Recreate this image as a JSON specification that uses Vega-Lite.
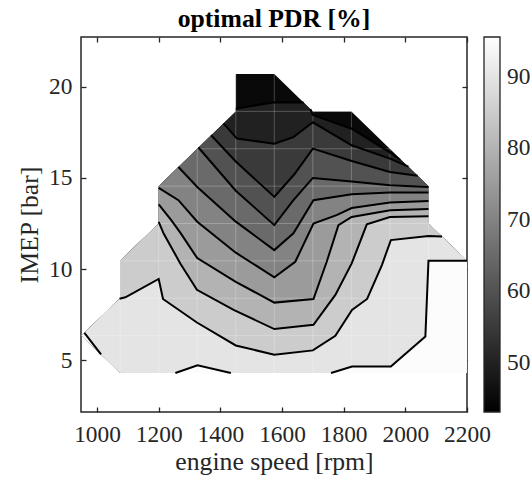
{
  "$schema": "https://vega.github.io/schema/vega-lite/v6.json",
  "width": 386,
  "height": 375,
  "autosize": "none",
  "padding": {"left": 81, "top": 37, "right": 64, "bottom": 71},
  "background": "white",
  "title": {"text": "optimal PDR [%]", "font": "Liberation Serif", "fontSize": 25.7, "fontWeight": "bold", "color": "#000000", "offset": 4, "anchor": "middle"},
  "config": {
    "view": {"stroke": "#262626", "strokeWidth": 1.5},
    "axis": {"grid": false, "domain": false, "tickColor": "#262626", "tickWidth": 1.3, "tickSize": -5, "labelFont": "Liberation Serif", "labelFontSize": 23.4, "labelColor": "#262626", "titleFont": "Liberation Serif", "titleFontSize": 25.7, "titleFontWeight": "normal", "titleColor": "#262626", "labelFlush": false, "labelOverlap": false, "format": "d"}
  },
  "datasets": {
    "bands": [
      {"p":0,"v":45,"x":950,"hi":6.35,"lo":6.35},{"p":0,"v":45,"x":1075,"hi":8.4,"lo":4.3},{"p":0,"v":45,"x":1075,"hi":10.45,"lo":4.3},{"p":0,"v":45,"x":1200,"hi":12.5,"lo":4.3},{"p":0,"v":45,"x":1200,"hi":14.55,"lo":4.3},{"p":0,"v":45,"x":1450,"hi":18.65,"lo":4.3},{"p":0,"v":45,"x":1450,"hi":20.7,"lo":4.3},{"p":0,"v":45,"x":1575,"hi":20.7,"lo":4.3},{"p":0,"v":45,"x":1700,"hi":18.65,"lo":4.3},{"p":0,"v":45,"x":1825,"hi":18.65,"lo":4.3},{"p":0,"v":45,"x":2075,"hi":14.55,"lo":4.3},{"p":0,"v":45,"x":2075,"hi":12.5,"lo":4.3},{"p":0,"v":45,"x":2200,"hi":10.45,"lo":4.3},

      {"p":1,"v":50,"x":950,"hi":6.35,"lo":6.35},{"p":1,"v":50,"x":1075,"hi":8.4,"lo":4.3},{"p":1,"v":50,"x":1075,"hi":10.45,"lo":4.3},{"p":1,"v":50,"x":1200,"hi":12.5,"lo":4.3},{"p":1,"v":50,"x":1200,"hi":14.55,"lo":4.3},{"p":1,"v":50,"x":1450,"hi":18.65,"lo":4.3},{"p":1,"v":50,"x":1450,"hi":18.8,"lo":4.3},{"p":1,"v":50,"x":1575,"hi":19.15,"lo":4.3},{"p":1,"v":50,"x":1670,"hi":19.14,"lo":4.3},{"p":1,"v":50,"x":1692,"hi":18.78,"lo":4.3},{"p":1,"v":50,"x":1700,"hi":18.45,"lo":4.3},{"p":1,"v":50,"x":1826,"hi":17.7,"lo":4.3},{"p":1,"v":50,"x":1950,"hi":16.4,"lo":4.3},{"p":1,"v":50,"x":1983,"hi":16.0,"lo":4.3},{"p":1,"v":50,"x":2075,"hi":14.55,"lo":4.3},{"p":1,"v":50,"x":2075,"hi":12.5,"lo":4.3},{"p":1,"v":50,"x":2200,"hi":10.45,"lo":4.3},

      {"p":2,"v":55,"x":950,"hi":6.35,"lo":6.35},{"p":2,"v":55,"x":1075,"hi":8.4,"lo":4.3},{"p":2,"v":55,"x":1075,"hi":10.45,"lo":4.3},{"p":2,"v":55,"x":1200,"hi":12.5,"lo":4.3},{"p":2,"v":55,"x":1200,"hi":14.55,"lo":4.3},{"p":2,"v":55,"x":1410,"hi":17.99,"lo":4.3},{"p":2,"v":55,"x":1454,"hi":17.16,"lo":4.3},{"p":2,"v":55,"x":1575,"hi":16.88,"lo":4.3},{"p":2,"v":55,"x":1637,"hi":17.24,"lo":4.3},{"p":2,"v":55,"x":1700,"hi":18.05,"lo":4.3},{"p":2,"v":55,"x":1826,"hi":16.79,"lo":4.3},{"p":2,"v":55,"x":1950,"hi":16.06,"lo":4.3},{"p":2,"v":55,"x":2010,"hi":15.62,"lo":4.3},{"p":2,"v":55,"x":2075,"hi":14.55,"lo":4.3},{"p":2,"v":55,"x":2075,"hi":12.5,"lo":4.3},{"p":2,"v":55,"x":2200,"hi":10.45,"lo":4.3},

      {"p":3,"v":60,"x":950,"hi":6.35,"lo":6.35},{"p":3,"v":60,"x":1075,"hi":8.4,"lo":4.3},{"p":3,"v":60,"x":1075,"hi":10.45,"lo":4.3},{"p":3,"v":60,"x":1200,"hi":12.5,"lo":4.3},{"p":3,"v":60,"x":1200,"hi":14.55,"lo":4.3},{"p":3,"v":60,"x":1370,"hi":17.34,"lo":4.3},{"p":3,"v":60,"x":1450,"hi":15.9,"lo":4.3},{"p":3,"v":60,"x":1575,"hi":13.96,"lo":4.3},{"p":3,"v":60,"x":1640,"hi":15.2,"lo":4.3},{"p":3,"v":60,"x":1700,"hi":16.61,"lo":4.3},{"p":3,"v":60,"x":1826,"hi":15.93,"lo":4.3},{"p":3,"v":60,"x":1950,"hi":15.33,"lo":4.3},{"p":3,"v":60,"x":2040,"hi":15.12,"lo":4.3},{"p":3,"v":60,"x":2075,"hi":14.55,"lo":4.3},{"p":3,"v":60,"x":2075,"hi":12.5,"lo":4.3},{"p":3,"v":60,"x":2200,"hi":10.45,"lo":4.3},

      {"p":4,"v":65,"x":950,"hi":6.35,"lo":6.35},{"p":4,"v":65,"x":1075,"hi":8.4,"lo":4.3},{"p":4,"v":65,"x":1075,"hi":10.45,"lo":4.3},{"p":4,"v":65,"x":1200,"hi":12.5,"lo":4.3},{"p":4,"v":65,"x":1200,"hi":14.55,"lo":4.3},{"p":4,"v":65,"x":1329,"hi":16.67,"lo":4.3},{"p":4,"v":65,"x":1450,"hi":14.3,"lo":4.3},{"p":4,"v":65,"x":1575,"hi":12.41,"lo":4.3},{"p":4,"v":65,"x":1637,"hi":13.78,"lo":4.3},{"p":4,"v":65,"x":1700,"hi":15.0,"lo":4.3},{"p":4,"v":65,"x":1826,"hi":14.8,"lo":4.3},{"p":4,"v":65,"x":1950,"hi":14.6,"lo":4.3},{"p":4,"v":65,"x":2075,"hi":14.5,"lo":4.3},{"p":4,"v":65,"x":2075,"hi":12.5,"lo":4.3},{"p":4,"v":65,"x":2200,"hi":10.45,"lo":4.3},

      {"p":5,"v":70,"x":950,"hi":6.35,"lo":6.35},{"p":5,"v":70,"x":1075,"hi":8.4,"lo":4.3},{"p":5,"v":70,"x":1075,"hi":10.45,"lo":4.3},{"p":5,"v":70,"x":1200,"hi":12.5,"lo":4.3},{"p":5,"v":70,"x":1200,"hi":14.55,"lo":4.3},{"p":5,"v":70,"x":1264,"hi":15.6,"lo":4.3},{"p":5,"v":70,"x":1325,"hi":14.5,"lo":4.3},{"p":5,"v":70,"x":1450,"hi":12.6,"lo":4.3},{"p":5,"v":70,"x":1575,"hi":11.04,"lo":4.3},{"p":5,"v":70,"x":1637,"hi":11.96,"lo":4.3},{"p":5,"v":70,"x":1702,"hi":13.78,"lo":4.3},{"p":5,"v":70,"x":1826,"hi":14.1,"lo":4.3},{"p":5,"v":70,"x":1950,"hi":14.2,"lo":4.3},{"p":5,"v":70,"x":2075,"hi":14.2,"lo":4.3},{"p":5,"v":70,"x":2075,"hi":12.5,"lo":4.3},{"p":5,"v":70,"x":2200,"hi":10.45,"lo":4.3},

      {"p":6,"v":75,"x":950,"hi":6.35,"lo":6.35},{"p":6,"v":75,"x":1075,"hi":8.4,"lo":4.3},{"p":6,"v":75,"x":1075,"hi":10.45,"lo":4.3},{"p":6,"v":75,"x":1200,"hi":12.5,"lo":4.3},{"p":6,"v":75,"x":1200,"hi":14.45,"lo":4.3},{"p":6,"v":75,"x":1264,"hi":13.78,"lo":4.3},{"p":6,"v":75,"x":1325,"hi":12.6,"lo":4.3},{"p":6,"v":75,"x":1450,"hi":10.9,"lo":4.3},{"p":6,"v":75,"x":1575,"hi":9.55,"lo":4.3},{"p":6,"v":75,"x":1643,"hi":10.4,"lo":4.3},{"p":6,"v":75,"x":1702,"hi":12.5,"lo":4.3},{"p":6,"v":75,"x":1777,"hi":12.96,"lo":4.3},{"p":6,"v":75,"x":1826,"hi":13.35,"lo":4.3},{"p":6,"v":75,"x":1950,"hi":13.65,"lo":4.3},{"p":6,"v":75,"x":2075,"hi":13.74,"lo":4.3},{"p":6,"v":75,"x":2075,"hi":12.5,"lo":4.3},{"p":6,"v":75,"x":2200,"hi":10.45,"lo":4.3},

      {"p":7,"v":80,"x":950,"hi":6.35,"lo":6.35},{"p":7,"v":80,"x":1075,"hi":8.4,"lo":4.3},{"p":7,"v":80,"x":1075,"hi":10.45,"lo":4.3},{"p":7,"v":80,"x":1200,"hi":12.5,"lo":4.3},{"p":7,"v":80,"x":1200,"hi":13.55,"lo":4.3},{"p":7,"v":80,"x":1240,"hi":12.7,"lo":4.3},{"p":7,"v":80,"x":1270,"hi":12.0,"lo":4.3},{"p":7,"v":80,"x":1325,"hi":10.6,"lo":4.3},{"p":7,"v":80,"x":1450,"hi":9.3,"lo":4.3},{"p":7,"v":80,"x":1575,"hi":8.16,"lo":4.3},{"p":7,"v":80,"x":1702,"hi":8.36,"lo":4.3},{"p":7,"v":80,"x":1745,"hi":10.4,"lo":4.3},{"p":7,"v":80,"x":1783,"hi":12.41,"lo":4.3},{"p":7,"v":80,"x":1826,"hi":12.86,"lo":4.3},{"p":7,"v":80,"x":1951,"hi":13.23,"lo":4.3},{"p":7,"v":80,"x":2075,"hi":13.3,"lo":4.3},{"p":7,"v":80,"x":2075,"hi":12.5,"lo":4.3},{"p":7,"v":80,"x":2200,"hi":10.45,"lo":4.3},

      {"p":8,"v":85,"x":950,"hi":6.35,"lo":6.35},{"p":8,"v":85,"x":1075,"hi":8.4,"lo":4.3},{"p":8,"v":85,"x":1075,"hi":10.45,"lo":4.3},{"p":8,"v":85,"x":1200,"hi":12.5,"lo":4.3},{"p":8,"v":85,"x":1200,"hi":12.59,"lo":4.3},{"p":8,"v":85,"x":1216,"hi":11.95,"lo":4.3},{"p":8,"v":85,"x":1270,"hi":10.31,"lo":4.3},{"p":8,"v":85,"x":1324,"hi":8.86,"lo":4.3},{"p":8,"v":85,"x":1443,"hi":7.76,"lo":4.3},{"p":8,"v":85,"x":1575,"hi":6.71,"lo":4.3},{"p":8,"v":85,"x":1702,"hi":6.94,"lo":4.3},{"p":8,"v":85,"x":1773,"hi":8.58,"lo":4.3},{"p":8,"v":85,"x":1826,"hi":10.31,"lo":4.3},{"p":8,"v":85,"x":1875,"hi":12.45,"lo":4.3},{"p":8,"v":85,"x":1950,"hi":12.86,"lo":4.3},{"p":8,"v":85,"x":2075,"hi":12.9,"lo":4.3},{"p":8,"v":85,"x":2075,"hi":12.5,"lo":4.3},{"p":8,"v":85,"x":2200,"hi":10.45,"lo":4.3},

      {"p":9,"v":90,"x":950,"hi":6.35,"lo":6.35},{"p":9,"v":90,"x":1073,"hi":8.37,"lo":4.33},{"p":9,"v":90,"x":1092,"hi":8.45,"lo":4.3},{"p":9,"v":90,"x":1200,"hi":9.46,"lo":4.3},{"p":9,"v":90,"x":1214,"hi":8.36,"lo":4.3},{"p":9,"v":90,"x":1324,"hi":7.07,"lo":4.3},{"p":9,"v":90,"x":1450,"hi":5.81,"lo":4.3},{"p":9,"v":90,"x":1575,"hi":5.3,"lo":4.3},{"p":9,"v":90,"x":1700,"hi":5.54,"lo":4.3},{"p":9,"v":90,"x":1773,"hi":6.34,"lo":4.3},{"p":9,"v":90,"x":1827,"hi":7.76,"lo":4.3},{"p":9,"v":90,"x":1876,"hi":8.36,"lo":4.3},{"p":9,"v":90,"x":1924,"hi":10.22,"lo":4.3},{"p":9,"v":90,"x":1953,"hi":11.59,"lo":4.3},{"p":9,"v":90,"x":2075,"hi":11.81,"lo":4.3},{"p":9,"v":90,"x":2119,"hi":11.78,"lo":4.3},{"p":9,"v":90,"x":2200,"hi":10.45,"lo":4.3},

      {"p":10,"v":95,"x":950,"hi":6.35,"lo":6.35},{"p":10,"v":95,"x":959,"hi":6.5,"lo":6.2},{"p":10,"v":95,"x":1013,"hi":5.32,"lo":5.32},
      {"p":11,"v":95,"x":1254,"hi":4.3,"lo":4.3},{"p":11,"v":95,"x":1326,"hi":4.72,"lo":4.3},{"p":11,"v":95,"x":1434,"hi":4.3,"lo":4.3},
      {"p":12,"v":95,"x":1759,"hi":4.3,"lo":4.3},{"p":12,"v":95,"x":1827,"hi":4.66,"lo":4.3},{"p":12,"v":95,"x":1953,"hi":4.66,"lo":4.3},{"p":12,"v":95,"x":2065,"hi":6.3,"lo":4.3},{"p":12,"v":95,"x":2075,"hi":10.45,"lo":4.3},{"p":12,"v":95,"x":2200,"hi":10.45,"lo":4.3}
    ],
    "mesh": [
      {"x":1075,"x2":1075,"y":4.3,"y2":10.45},{"x":1200,"x2":1200,"y":4.3,"y2":14.55},{"x":1325,"x2":1325,"y":4.3,"y2":16.6},{"x":1450,"x2":1450,"y":4.3,"y2":20.7},{"x":1575,"x2":1575,"y":4.3,"y2":20.7},{"x":1700,"x2":1700,"y":4.3,"y2":18.65},{"x":1825,"x2":1825,"y":4.3,"y2":18.65},{"x":1950,"x2":1950,"y":4.3,"y2":16.6},{"x":2075,"x2":2075,"y":4.3,"y2":14.55},
      {"x":950,"x2":2075,"y":6.35,"y2":6.35},{"x":1075,"x2":2200,"y":8.4,"y2":8.4},{"x":1075,"x2":2200,"y":10.45,"y2":10.45},{"x":1200,"x2":2075,"y":12.5,"y2":12.5},{"x":1200,"x2":2075,"y":14.55,"y2":14.55},{"x":1325,"x2":1950,"y":16.6,"y2":16.6},{"x":1450,"x2":1825,"y":18.65,"y2":18.65}
    ],
    "contours": [
      {"id":"95a","o":0,"x":959,"y":6.5},{"id":"95a","o":1,"x":1013,"y":5.32},
      {"id":"95b","o":0,"x":1254,"y":4.3},{"id":"95b","o":1,"x":1326,"y":4.72},{"id":"95b","o":2,"x":1434,"y":4.3},
      {"id":"95c","o":0,"x":1759,"y":4.3},{"id":"95c","o":1,"x":1827,"y":4.66},{"id":"95c","o":2,"x":1953,"y":4.66},{"id":"95c","o":3,"x":2065,"y":6.3},{"id":"95c","o":4,"x":2075,"y":10.45},{"id":"95c","o":5,"x":2200,"y":10.45},
      {"id":"90","o":0,"x":1073,"y":8.37},{"id":"90","o":1,"x":1092,"y":8.45},{"id":"90","o":2,"x":1200,"y":9.46},{"id":"90","o":3,"x":1214,"y":8.36},{"id":"90","o":4,"x":1324,"y":7.07},{"id":"90","o":5,"x":1450,"y":5.81},{"id":"90","o":6,"x":1575,"y":5.3},{"id":"90","o":7,"x":1700,"y":5.54},{"id":"90","o":8,"x":1773,"y":6.34},{"id":"90","o":9,"x":1827,"y":7.76},{"id":"90","o":10,"x":1876,"y":8.36},{"id":"90","o":11,"x":1924,"y":10.22},{"id":"90","o":12,"x":1953,"y":11.59},{"id":"90","o":13,"x":2075,"y":11.81},{"id":"90","o":14,"x":2119,"y":11.78},
      {"id":"85","o":0,"x":1200,"y":12.59},{"id":"85","o":1,"x":1216,"y":11.95},{"id":"85","o":2,"x":1270,"y":10.31},{"id":"85","o":3,"x":1324,"y":8.86},{"id":"85","o":4,"x":1443,"y":7.76},{"id":"85","o":5,"x":1575,"y":6.71},{"id":"85","o":6,"x":1702,"y":6.94},{"id":"85","o":7,"x":1773,"y":8.58},{"id":"85","o":8,"x":1826,"y":10.31},{"id":"85","o":9,"x":1875,"y":12.45},{"id":"85","o":10,"x":1950,"y":12.86},{"id":"85","o":11,"x":2075,"y":12.9},
      {"id":"80","o":0,"x":1200,"y":13.55},{"id":"80","o":1,"x":1240,"y":12.7},{"id":"80","o":2,"x":1270,"y":12.0},{"id":"80","o":3,"x":1325,"y":10.6},{"id":"80","o":4,"x":1450,"y":9.3},{"id":"80","o":5,"x":1575,"y":8.16},{"id":"80","o":6,"x":1702,"y":8.36},{"id":"80","o":7,"x":1745,"y":10.4},{"id":"80","o":8,"x":1783,"y":12.41},{"id":"80","o":9,"x":1826,"y":12.86},{"id":"80","o":10,"x":1951,"y":13.23},{"id":"80","o":11,"x":2075,"y":13.3},
      {"id":"75","o":0,"x":1200,"y":14.45},{"id":"75","o":1,"x":1264,"y":13.78},{"id":"75","o":2,"x":1325,"y":12.6},{"id":"75","o":3,"x":1450,"y":10.9},{"id":"75","o":4,"x":1575,"y":9.55},{"id":"75","o":5,"x":1643,"y":10.4},{"id":"75","o":6,"x":1702,"y":12.5},{"id":"75","o":7,"x":1777,"y":12.96},{"id":"75","o":8,"x":1826,"y":13.35},{"id":"75","o":9,"x":1950,"y":13.65},{"id":"75","o":10,"x":2075,"y":13.74},
      {"id":"70","o":0,"x":1264,"y":15.6},{"id":"70","o":1,"x":1325,"y":14.5},{"id":"70","o":2,"x":1450,"y":12.6},{"id":"70","o":3,"x":1575,"y":11.04},{"id":"70","o":4,"x":1637,"y":11.96},{"id":"70","o":5,"x":1702,"y":13.78},{"id":"70","o":6,"x":1826,"y":14.1},{"id":"70","o":7,"x":1950,"y":14.2},{"id":"70","o":8,"x":2075,"y":14.2},
      {"id":"65","o":0,"x":1329,"y":16.67},{"id":"65","o":1,"x":1450,"y":14.3},{"id":"65","o":2,"x":1575,"y":12.41},{"id":"65","o":3,"x":1637,"y":13.78},{"id":"65","o":4,"x":1700,"y":15.0},{"id":"65","o":5,"x":1826,"y":14.8},{"id":"65","o":6,"x":1950,"y":14.6},{"id":"65","o":7,"x":2075,"y":14.5},
      {"id":"60","o":0,"x":1370,"y":17.34},{"id":"60","o":1,"x":1450,"y":15.9},{"id":"60","o":2,"x":1575,"y":13.96},{"id":"60","o":3,"x":1640,"y":15.2},{"id":"60","o":4,"x":1700,"y":16.61},{"id":"60","o":5,"x":1826,"y":15.93},{"id":"60","o":6,"x":1950,"y":15.33},{"id":"60","o":7,"x":2040,"y":15.12},
      {"id":"55","o":0,"x":1410,"y":17.99},{"id":"55","o":1,"x":1454,"y":17.16},{"id":"55","o":2,"x":1575,"y":16.88},{"id":"55","o":3,"x":1637,"y":17.24},{"id":"55","o":4,"x":1700,"y":18.05},{"id":"55","o":5,"x":1826,"y":16.79},{"id":"55","o":6,"x":1950,"y":16.06},{"id":"55","o":7,"x":2010,"y":15.62},
      {"id":"50a","o":0,"x":1450,"y":18.8},{"id":"50a","o":1,"x":1575,"y":19.15},{"id":"50a","o":2,"x":1670,"y":19.14},
      {"id":"50b","o":0,"x":1692,"y":18.78},{"id":"50b","o":1,"x":1700,"y":18.45},{"id":"50b","o":2,"x":1826,"y":17.7},{"id":"50b","o":3,"x":1950,"y":16.4},{"id":"50b","o":4,"x":1983,"y":16.0}
    ]
  },
  "layer": [
    {
      "data": {"name": "bands"},
      "mark": {"type": "area"},
      "encoding": {
        "x": {"field": "x", "type": "quantitative", "scale": {"domain": [948, 2200], "nice": false, "zero": false},
              "axis": {"orient": "bottom", "values": [1000, 1200, 1400, 1600, 1800, 2000, 2200], "title": "engine speed [rpm]", "labelPadding": 16, "titlePadding": 4}},
        "y": {"field": "hi", "type": "quantitative", "scale": {"domain": [2.16, 22.73], "nice": false, "zero": false},
              "axis": {"orient": "left", "values": [5, 10, 15, 20], "title": "IMEP [bar]", "labelPadding": 14, "titlePadding": 6}},
        "y2": {"field": "lo"},
        "color": {"field": "v", "type": "quantitative",
                  "scale": {"domain": [43.15, 95.55], "range": ["#000000", "#ffffff"], "interpolate": "rgb"},
                  "legend": {"orient": "right", "offset": 13, "padding": 0, "title": null, "direction": "vertical",
                             "gradientLength": 375, "gradientThickness": 16, "gradientStrokeColor": "#262626", "gradientStrokeWidth": 1.3,
                             "values": [50, 60, 70, 80, 90], "labelFont": "Liberation Serif", "labelFontSize": 23.4, "labelColor": "#262626", "labelOffset": 7, "labelOverlap": false}},
        "detail": {"field": "p", "type": "nominal"}
      }
    },
    {
      "data": {"name": "mesh"},
      "mark": {"type": "rule", "color": "#ffffff", "strokeWidth": 0.8, "opacity": 0.3},
      "encoding": {
        "x": {"field": "x", "type": "quantitative", "axis": null},
        "x2": {"field": "x2"},
        "y": {"field": "y", "type": "quantitative", "axis": null},
        "y2": {"field": "y2"}
      }
    },
    {
      "data": {"name": "contours"},
      "mark": {"type": "line", "color": "#000000", "strokeWidth": 2},
      "encoding": {
        "x": {"field": "x", "type": "quantitative", "axis": {"orient": "top", "values": [1000, 1200, 1400, 1600, 1800, 2000, 2200], "labels": false, "title": null}},
        "y": {"field": "y", "type": "quantitative", "axis": {"orient": "right", "values": [5, 10, 15, 20], "labels": false, "title": null}},
        "detail": {"field": "id", "type": "nominal"},
        "order": {"field": "o", "type": "quantitative"}
      }
    }
  ],
  "resolve": {"axis": {"x": "independent", "y": "independent"}}
}
